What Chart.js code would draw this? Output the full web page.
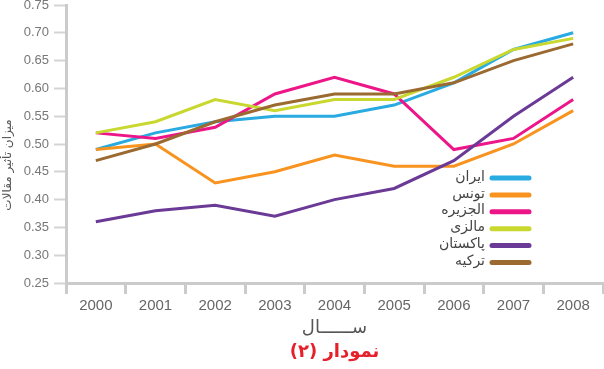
<!DOCTYPE html>
<html>
<head>
<meta charset="utf-8">
<script src="https://cdn.jsdelivr.net/npm/chart.js@4/dist/chart.umd.min.js"></script>
<style>
html,body{margin:0;padding:0;background:#fff;}
#wrap{width:604px;height:369px;}
</style>
</head>
<body>
<div id="wrap"><canvas id="c" width="604" height="369"></canvas></div>
<script>
const years = ['2000','2001','2002','2003','2004','2005','2006','2007','2008'];
const seriesNames = ['ایران','تونس','الجزیره','مالزی','پاکستان','ترکیه'];
const iran     = [0.49, 0.52, 0.54, 0.55, 0.55, 0.57, 0.61, 0.67, 0.70];
const tunisia  = [0.49, 0.50, 0.43, 0.45, 0.48, 0.46, 0.46, 0.50, 0.56];
const jazeera  = [0.52, 0.51, 0.53, 0.59, 0.62, 0.59, 0.49, 0.51, 0.58];
const malaysia = [0.52, 0.54, 0.58, 0.56, 0.58, 0.58, 0.62, 0.67, 0.69];
const pakistan = [0.36, 0.38, 0.39, 0.37, 0.40, 0.42, 0.47, 0.55, 0.62];
const turkey   = [0.47, 0.50, 0.54, 0.57, 0.59, 0.59, 0.61, 0.65, 0.68];
const colors = ['#29abe2','#f7931e','#ec1688','#c9d82f','#6b3a96','#9a6a30'];
const yTitle = 'میزان تأثیر مقالات';
const xTitle = 'ســــــال';
const chartTitle = 'نمودار (۲)';

const allSeries = [iran, tunisia, jazeera, malaysia, pakistan, turkey];

const overlay = {
  id: 'overlay',
  afterDraw(chart) {
    const ctx = chart.ctx;
    const area = chart.chartArea;
    ctx.save();
    // legend
    chart.data.datasets.forEach((ds, i) => {
      const y = 178 + i * 16.9;
      ctx.strokeStyle = ds.borderColor;
      ctx.lineWidth = 5;
      ctx.lineCap = 'round';
      ctx.beginPath();
      ctx.moveTo(492, y);
      ctx.lineTo(529, y);
      ctx.stroke();
      ctx.fillStyle = '#444';
      ctx.font = '14px "DejaVu Sans", sans-serif';
      ctx.textAlign = 'right';
      ctx.textBaseline = 'middle';
      ctx.fillText(ds.label, 485, y - 1);
    });
    // y title
    ctx.save();
    ctx.translate(8, 165);
    ctx.rotate(-Math.PI / 2);
    ctx.fillStyle = '#555';
    ctx.font = '12px "DejaVu Sans", sans-serif';
    ctx.textAlign = 'center';
    ctx.textBaseline = 'middle';
    ctx.fillText(yTitle, 0, 0);
    ctx.restore();
    // x title
    const cx = (area.left + area.right) / 2;
    ctx.fillStyle = '#555';
    ctx.font = '18px "DejaVu Sans", sans-serif';
    ctx.textAlign = 'center';
    ctx.textBaseline = 'middle';
    ctx.fillText(xTitle, cx, 328);
    // chart title
    ctx.fillStyle = '#e5202b';
    ctx.font = 'bold 18px "DejaVu Sans", sans-serif';
    ctx.fillText(chartTitle, cx, 352);
    ctx.restore();
  }
};

new Chart(document.getElementById('c'), {
  type: 'line',
  data: {
    labels: years,
    datasets: allSeries.map((d, i) => ({
      label: seriesNames[i],
      data: d,
      borderColor: colors[i],
      backgroundColor: colors[i],
      borderWidth: 3,
      pointRadius: 0,
      tension: 0,
      fill: false,
      order: allSeries.length - i
    }))
  },
  options: {
    responsive: false,
    animation: false,
    layout: { padding: { top: 5, right: 1, left: 0, bottom: 0 } },
    plugins: { legend: { display: false }, tooltip: { enabled: false }, title: { display: false } },
    scales: {
      x: {
        type: 'category',
        offset: true,
        grid: { display: true, drawOnChartArea: false, offset: true, tickLength: 11, tickWidth: 3, tickColor: '#cbcbcb' },
        border: { display: true, color: '#cbcbcb', width: 3 },
        ticks: { color: '#666', font: { family: '"Liberation Sans", Arial, sans-serif', size: 15 }, padding: 3 },
        afterFit(scale) { scale.height = 86; scale.paddingLeft = 0; scale.paddingRight = 0; }
      },
      y: {
        min: 0.25,
        max: 0.75,
        grid: { display: true, drawOnChartArea: false, tickLength: 12, tickWidth: 2, tickColor: '#d4d4d4' },
        border: { display: true, color: '#cbcbcb', width: 3 },
        ticks: {
          stepSize: 0.05,
          color: '#777',
          padding: 5,
          font: { family: '"Liberation Sans", Arial, sans-serif', size: 13 },
          callback: (v) => Number(v).toFixed(2)
        },
        afterFit(scale) { scale.width = 66; scale.paddingTop = 0; scale.paddingBottom = 0; }
      }
    }
  },
  plugins: [overlay]
});
</script>
</body>
</html>
